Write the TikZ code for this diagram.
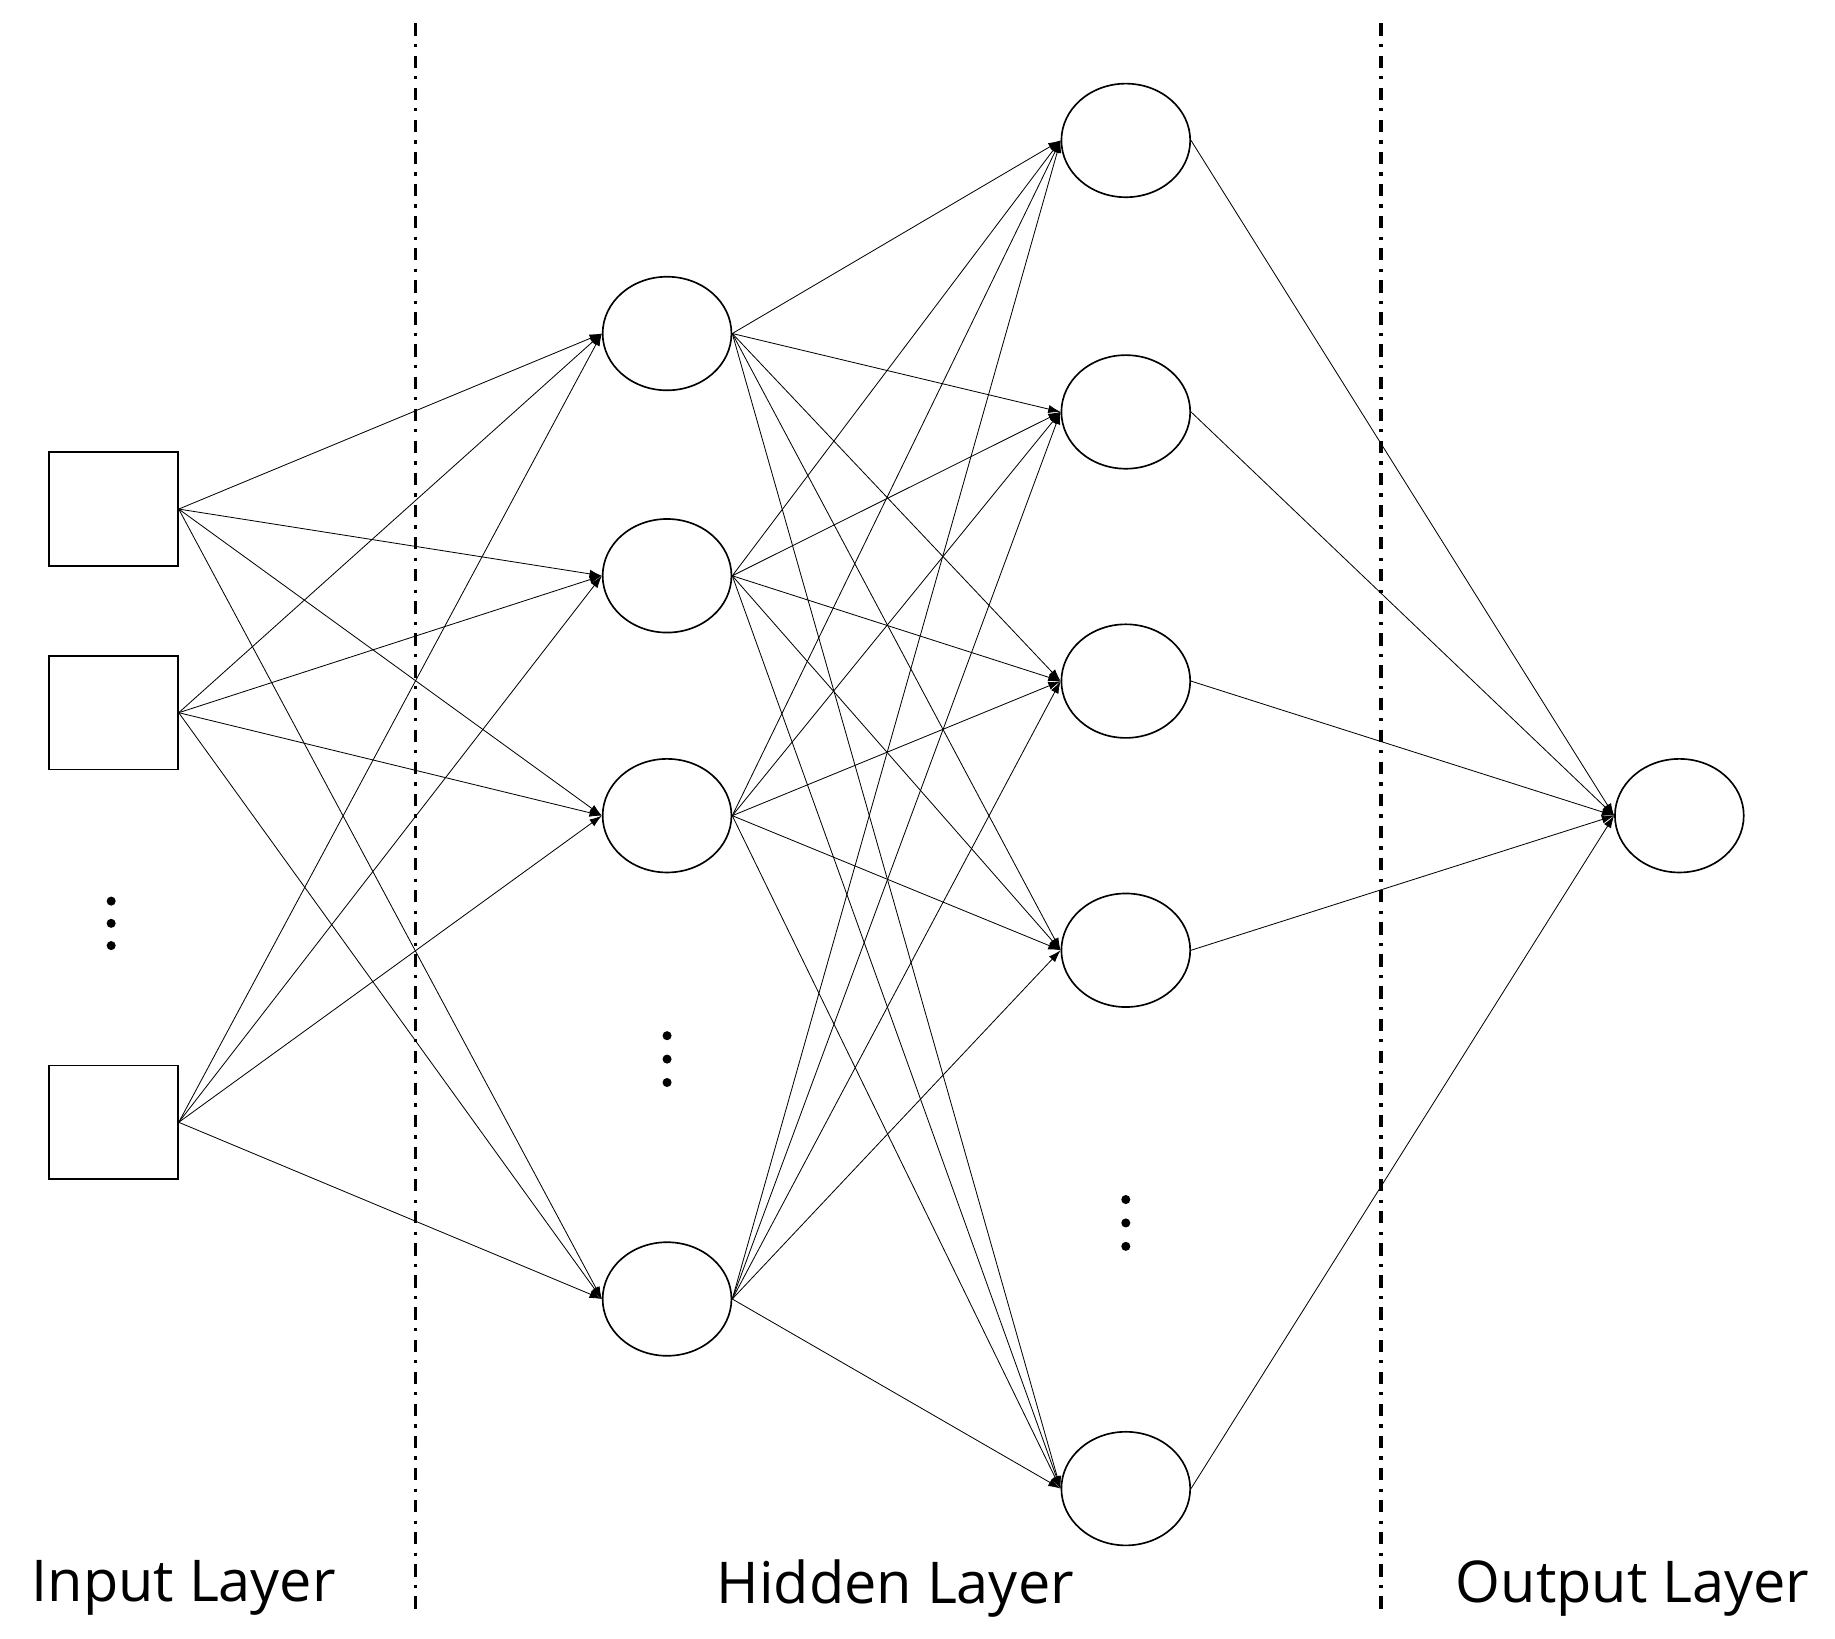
\documentclass[tikz,border=0pt]{standalone}
\usepackage{fontspec}
\setmainfont{Open Sans}
\usetikzlibrary{arrows.meta,shapes.geometric}
\begin{document}
\begin{tikzpicture}[x=0.01cm,y=-0.01cm,
    inp/.style={draw,thin,minimum width=1.1cm,minimum height=0.97cm,inner sep=0pt},
    neu/.style={draw,thin,ellipse,minimum width=1.1cm,minimum height=0.97cm,inner sep=0pt},
    con/.style={very thin,-{Latex[length=3pt,width=2pt]}},
    dot/.style={circle,fill=black,inner sep=0pt,minimum size=2.2pt},
    sep/.style={thick,dash dot},
    lbl/.style={font=\fontsize{14}{17}\selectfont}]
  \useasboundingbox (0,0) rectangle (1568,1400);
  % input layer
  \node[inp] (i1) at (97,435) {};
  \node[inp] (i2) at (97,609) {};
  \node[inp] (i3) at (97,959) {};
  \foreach \y [count=\k] in {770,789,808}
    \node[dot] (di\k) at (95,\y) {};
  % hidden layers
  \foreach \y [count=\k] in {285,492,697,1110}
    \node[neu] (a\k) at (570,\y) {};
  \foreach \y [count=\k] in {885,905,925}
    \node[dot] (da\k) at (570,\y) {};
  \foreach \y [count=\k] in {120,352,582,812,1272}
    \node[neu] (b\k) at (962,\y) {};
  \foreach \y [count=\k] in {1025,1045,1065}
    \node[dot] (db\k) at (962,\y) {};
  % output layer
  \node[neu] (o) at (1435,697) {};
  % connections
  \foreach \i in {1,2,3}
    \foreach \j in {1,...,4}
      \draw[con] (i\i.east) -- (a\j.west);
  \foreach \i in {1,...,4}
    \foreach \j in {1,...,5}
      \draw[con] (a\i.east) -- (b\j.west);
  \foreach \j in {1,...,5}
    \draw[con] (b\j.east) -- (o.west);
  % separators
  \draw[sep] (355,20) -- (355,1378);
  \draw[sep] (1180,20) -- (1180,1378);
  \node[lbl] (l1) at (157,1357) {Input Layer};
  \node[lbl] (l2) at (765,1357) {Hidden Layer};
  \node[lbl] (l3) at (1395,1357) {Output Layer};
\end{tikzpicture}
\end{document}
